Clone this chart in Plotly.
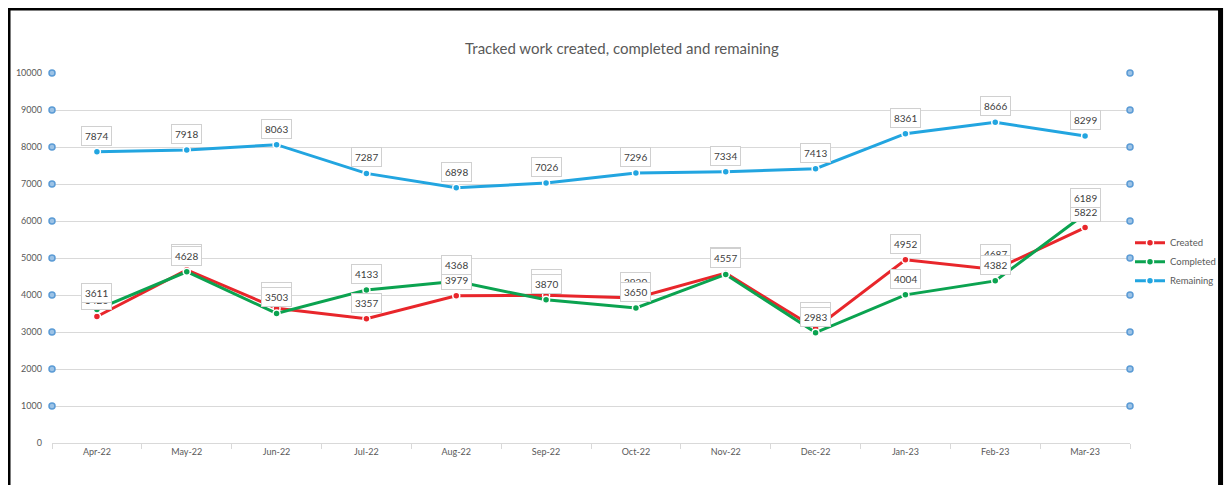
import plotly.graph_objects as go

months = ["Apr-22", "May-22", "Jun-22", "Jul-22", "Aug-22", "Sep-22",
          "Oct-22", "Nov-22", "Dec-22", "Jan-23", "Feb-23", "Mar-23"]
created = [3420, 4680, 3643, 3357, 3979, 3990, 3920, 4590, 3100, 4952, 4687, 5822]
completed = [3611, 4628, 3503, 4133, 4368, 3870, 3650, 4557, 2983, 4004, 4382, 6189]
remaining = [7874, 7918, 8063, 7287, 6898, 7026, 7296, 7334, 7413, 8361, 8666, 8299]
y_ticks = [0, 1000, 2000, 3000, 4000, 5000, 6000, 7000, 8000, 9000, 10000]

series = [
    ("Created", created, "#e8262b"),
    ("Completed", completed, "#0ba350"),
    ("Remaining", remaining, "#22a5e0"),
]

FONT = "Lato, 'Liberation Sans', sans-serif"
GREY = "#595959"

fig = go.Figure()

for name, vals, color in series:
    fig.add_trace(go.Scatter(
        x=months, y=vals, name=name, mode="lines+markers",
        line=dict(color=color, width=3),
        marker=dict(size=7, color=color, line=dict(color="white", width=1.5)),
    ))

# little axis marker dots at both edges (from the original sheet)
edge_ticks = [v for v in y_ticks if v > 0]
for side in (0, 1):
    fig.add_trace(go.Scatter(
        x=[side] * len(edge_ticks), y=edge_ticks, xaxis="x2",
        mode="markers", showlegend=False, hoverinfo="skip", cliponaxis=False,
        marker=dict(size=6, color="#9dc3e6", line=dict(color="#5b9bd5", width=1.5)),
    ))

# data labels, boxed, above each point
for name, vals, color in series:
    for m, v in zip(months, vals):
        fig.add_annotation(
            x=m, y=v, text=str(v), showarrow=False,
            yanchor="bottom", yshift=6,
            font=dict(family=FONT, size=10, color="#404040"),
            bgcolor="white", bordercolor="#d0d0d0", borderwidth=1, borderpad=3,
        )

# outer frame (left/top on the figure edge, right just inside the visible area)
fig.add_shape(type="rect", xref="paper", yref="paper",
              x0=-0.0408, x1=1.084, y0=-0.2, y1=1.1757,
              line=dict(color="black", width=5), fillcolor="rgba(0,0,0,0)", layer="below")

# page body has an 8px margin, so the figure is shifted accordingly
fig.update_layout(
    width=1224, height=477,
    margin=dict(l=44, r=102, t=65, b=42, autoexpand=False),
    paper_bgcolor="white", plot_bgcolor="white",
    font=dict(family=FONT, color=GREY),
    title=dict(text="Tracked work created, completed and remaining",
               x=0.5016, xref="container", xanchor="center",
               y=1 - 41 / 477, yanchor="middle",
               font=dict(family=FONT, size=15, color=GREY)),
    showlegend=True,
    legend=dict(x=1.0, y=0.49, xanchor="left", yanchor="middle",
                font=dict(size=9.5, color=GREY), itemwidth=30,
                tracegroupgap=0, bgcolor="rgba(0,0,0,0)"),
    xaxis=dict(range=[-0.5, 11.5], showgrid=False, showline=True, linecolor="#d9d9d9",
               ticks="outside", tickson="boundaries", ticklen=5, tickcolor="#d9d9d9",
               tickfont=dict(size=9, color=GREY), zeroline=False, automargin=False),
    xaxis2=dict(overlaying="x", range=[0, 1], visible=False),
    yaxis=dict(range=[0, 10000], tickvals=y_ticks, tickformat="d", showgrid=True,
               gridcolor="#d9d9d9", zeroline=False, ticklabelstandoff=9,
               tickfont=dict(size=9, color=GREY), automargin=False),
    hovermode="closest",
)

fig.write_html("out.html")
